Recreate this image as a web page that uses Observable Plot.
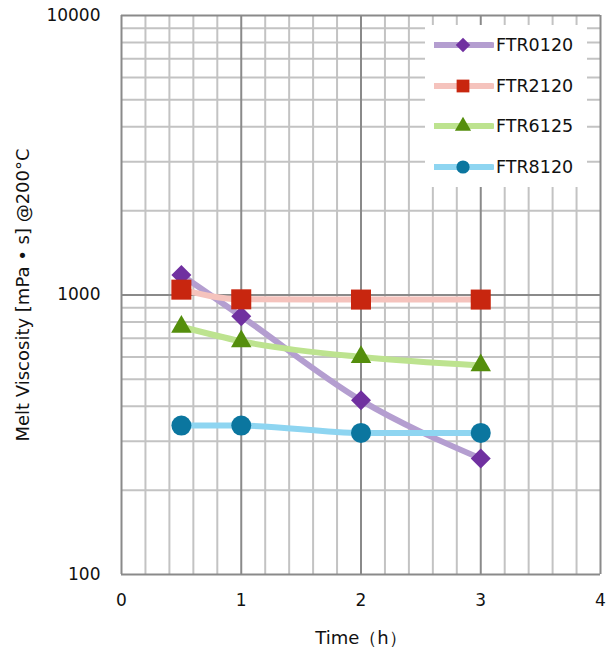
<!DOCTYPE html>
<html><head><meta charset="utf-8">
<script src="https://cdn.jsdelivr.net/npm/d3@7"></script>
<script src="https://cdn.jsdelivr.net/npm/@observablehq/plot@0.6"></script>
<style>
body{margin:0;background:#fff;font-family:"DejaVu Sans",sans-serif;}
#wrap{position:relative;width:616px;height:651px;}
#wrap svg text{font-size:17px !important;fill:#111;}
#wrap svg g[aria-label="x-axis label"] text, #wrap svg g[aria-label="y-axis label"] text{font-size:18px !important;}
#legend{position:absolute;left:425px;top:25px;width:162px;height:162px;background:#fff;}
.row{position:absolute;left:0;height:30px;display:flex;align-items:center;font-size:17.5px;color:#111;}
.row svg{display:block;margin-right:2px;}
</style></head><body><div id="wrap"></div>
<script>
// ---- data ----
const times = [0.5, 1, 2, 3];
const seriesNames = ["FTR0120", "FTR2120", "FTR6125", "FTR8120"];
const ftr0120 = [1180, 840, 420, 260];
const ftr2120 = [1045, 965, 963, 963];
const ftr6125 = [770, 683, 600, 560];
const ftr8120 = [341, 341, 321, 321];
const seriesValues = [ftr0120, ftr2120, ftr6125, ftr8120];
// ---- ticks ----
const xTicks = [0, 1, 2, 3, 4];
const xMinor = [0.2,0.4,0.6,0.8,1.2,1.4,1.6,1.8,2.2,2.4,2.6,2.8,3.2,3.4,3.6,3.8];
const yTicks = [100, 1000, 10000];
const yMinor = [200,300,400,500,600,700,800,900,2000,3000,4000,5000,6000,7000,8000,9000];
// ---- styles ----
const lineColors = ["#b49ed0", "#f5c3bd", "#bde38f", "#8ed5f1"];
const markerColors = ["#7030a0", "#c8260f", "#548e0c", "#0b769f"];
const symbols = ["diamond2", "square", "triangle", "circle"];
const markerR = [9, 11.3, 7.6, 10];

const rows = [];
seriesNames.forEach((s, i) => times.forEach((t, j) => rows.push({series: s, idx: i, t, v: seriesValues[i][j]})));

const marks = [
  Plot.ruleX(xMinor, {stroke: "#c3c3c3", strokeWidth: 2}),
  Plot.ruleY(yMinor, {stroke: "#c3c3c3", strokeWidth: 2}),
  Plot.ruleX(xTicks, {stroke: "#8a8a8a", strokeWidth: 2}),
  Plot.ruleY(yTicks, {stroke: "#8a8a8a", strokeWidth: 2}),
];
seriesNames.forEach((s, i) => {
  marks.push(Plot.line(rows.filter(d => d.idx === i), {x: "t", y: "v", stroke: lineColors[i], strokeWidth: 6, curve: "monotone-x"}));
});
seriesNames.forEach((s, i) => {
  marks.push(Plot.dot(rows.filter(d => d.idx === i), {x: "t", y: "v", symbol: () => symbols[i], fill: markerColors[i], stroke: "none", r: markerR[i]}));
});
marks.push(
  Plot.axisX(xTicks, {tickSize: 0, tickPadding: 19, fontSize: 17, tickFormat: d => String(d), label: "Time（h）", labelAnchor: "center", labelOffset: 69, labelArrow: "none"}),
  Plot.axisY(yTicks, {tickSize: 0, tickPadding: 21, fontSize: 17, tickFormat: d => String(d), label: "Melt Viscosity [mPa • s] @200°C", labelAnchor: "center", labelOffset: 105, labelArrow: "none"})
);

const chart = Plot.plot({
  width: 616, height: 651,
  marginLeft: 121, marginRight: 16, marginTop: 15, marginBottom: 77,
  style: {fontFamily: "DejaVu Sans, sans-serif", fontSize: "16px", color: "#111", background: "#fff"},
  x: {domain: [0, 4]},
  y: {type: "log", domain: [100, 10000]},
  marks
});
const wrap = document.getElementById("wrap");
wrap.appendChild(chart);

// ---- legend ----
const legend = document.createElement("div");
legend.id = "legend";
const legendR = [6.5, 7.2, 6, 6.6];
seriesNames.forEach((s, i) => {
  const row = document.createElement("div");
  row.className = "row";
  row.style.top = (5 + i * 40.7) + "px";
  row.style.left = "9px";
  const svg = d3.create("svg").attr("width", 60).attr("height", 30);
  svg.append("line").attr("x1", 1).attr("x2", 58).attr("y1", 15).attr("y2", 15)
    .attr("stroke", lineColors[i]).attr("stroke-width", 6).attr("stroke-linecap", "round");
  const sym = {diamond2: d3.symbolDiamond2, square: d3.symbolSquare, triangle: d3.symbolTriangle, circle: d3.symbolCircle}[symbols[i]];
  svg.append("path").attr("transform", "translate(29,15)")
    .attr("d", d3.symbol(sym, Math.PI * legendR[i] * legendR[i])()).attr("fill", markerColors[i]);
  row.appendChild(svg.node());
  const span = document.createElement("span");
  span.textContent = s;
  row.appendChild(span);
  legend.appendChild(row);
});
wrap.appendChild(legend);
</script></body></html>
